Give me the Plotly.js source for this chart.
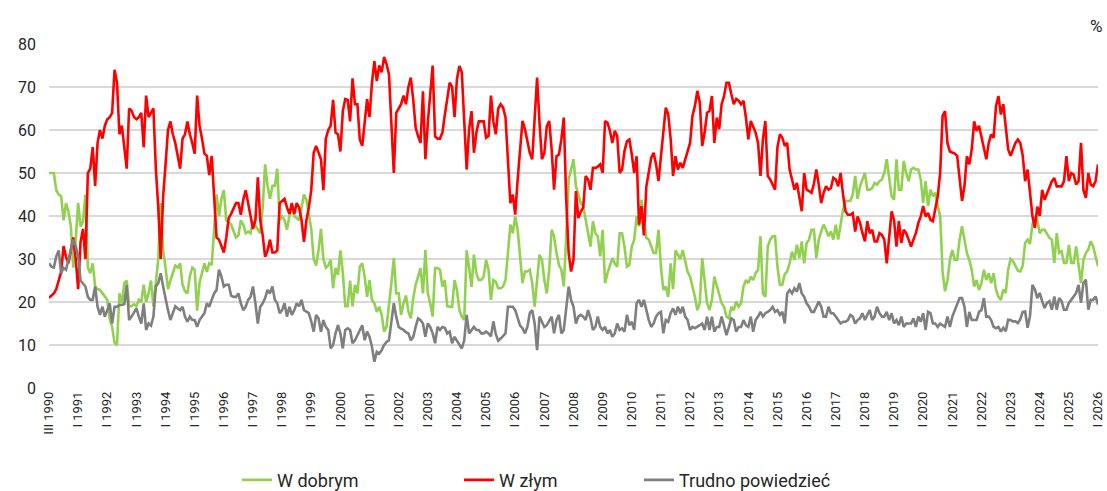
<!DOCTYPE html>
<html>
<head>
<meta charset="utf-8">
<script src="https://cdn.plot.ly/plotly-3.0.1.min.js"></script>
<style>
  html, body { margin: 0; padding: 0; background: #ffffff; }
  #chart { width: 1107px; height: 491px; }
</style>
</head>
<body>
<div id="chart"></div>
<script>
// Survey categories: 12 surveys from III 1990 to the end of 1990, then monthly from I 1991 to I 2026
const firstYear = 1990;
const lastYear = 2026;

// "W dobrym" (good direction), %
const wDobrym = [
  50, 50, 50, 46, 45, 44.6, 39, 43, 41, 37.6, 28, 34.5,          // 1990
  43, 37.6, 38.7, 45, 28, 26.7, 29, 23.6, 23, 22.8, 22, 21,       // 1991
  20.5, 16, 14.2, 10.5, 10, 22, 19.7, 24.4, 25, 19, 19, 19.5,     // 1992
  19, 20.5, 20, 24, 20, 22, 25, 19, 25, 30, 43, 32,               // 1993
  28, 23, 25, 27, 28.5, 28, 29, 24, 22.5, 22, 26, 28,             // 1994
  27.5, 18, 24.5, 26.7, 29, 27, 29, 28.6, 37, 45, 40, 44,         // 1995
  46, 39, 38.5, 38, 36.5, 35, 35.5, 39, 38, 36, 36.4, 36,         // 1996
  38.8, 37.6, 36.8, 36, 42, 52, 47, 44, 47, 47, 51, 39,           // 1997
  39.9, 39, 36.8, 40, 42.5, 40, 39.5, 39, 42, 45, 43.8, 40,       // 1998
  37, 30, 28.5, 32, 37, 30, 28, 28.5, 29.8, 23.2, 27.9, 26.3,     // 1999
  32, 26.7, 19, 19, 25, 19, 24, 22, 28.2, 29, 25.9, 21.2,         // 2000
  25.1, 20.5, 19.7, 17.7, 18.9, 17, 13.1, 14.2, 18.9, 24.4, 30.2, 22, // 2001
  22, 17, 19.7, 21.5, 17.8, 16.2, 20.9, 24, 25.9, 27.9, 22, 32.1, // 2002
  22, 19.7, 16.6, 27.9, 27.9, 27.5, 23.6, 25.1, 19, 18.9, 18.9, 25.1, // 2003
  22.8, 18.1, 16.6, 15.8, 32, 28, 23.5, 31, 26.7, 25.1, 25.1, 25.9,   // 2004
  29.8, 27.5, 20.5, 25.1, 24.7, 23.2, 23.2, 23.6, 25.1, 31.4, 38, 36, // 2005
  39.9, 36.8, 29.8, 24.4, 27.1, 27.1, 27.5, 24.4, 18.9, 25.1, 31, 29.8, // 2006
  25.1, 22, 27.5, 36.8, 35.3, 31.4, 28.6, 27.5, 23.6, 35.3, 48.5, 50.8, // 2007
  53.2, 46.9, 44.6, 43, 42.3, 39.1, 36, 32.9, 38.8, 36, 35.3, 30.6,   // 2008
  36.8, 24.4, 26.7, 28.2, 30.2, 29, 28.2, 36, 36, 32.9, 28.2, 28.6,   // 2009
  32.9, 34.5, 39.9, 37.6, 43.8, 38.8, 34.9, 34.5, 32.9, 31.4, 31.4, 36.8, // 2010
  28.2, 22.8, 23.6, 21.2, 29, 23, 32, 31, 30, 32, 29.8, 27,           // 2011
  25.9, 23.6, 21.2, 18.1, 19.7, 30.2, 24.4, 19.7, 18.1, 20.5, 25.9, 23.6, // 2012
  22, 19.7, 18.9, 16.6, 16.2, 18.9, 18.1, 20.1, 18.9, 19.7, 23.6, 25.1,   // 2013
  24.4, 25.9, 25.1, 26.7, 27.5, 35.3, 22, 21.2, 32.9, 34.5, 35.3, 35.3,   // 2014
  28.2, 24, 24, 26.5, 27.1, 29, 31.7, 29.8, 33.3, 30.2, 34.1, 29,         // 2015
  33.7, 34.5, 36.8, 36.8, 30.2, 34.5, 36.4, 38, 36.8, 35.3, 36.4, 34.5,   // 2016
  38, 34.5, 38, 41.5, 43.5, 43.5, 43.5, 45, 49.3, 44, 46.9, 48.5,         // 2017
  50, 46.1, 46.1, 46.5, 47.7, 47.3, 48.1, 48.5, 50, 53.2, 48.5, 44.6,     // 2018
  43.8, 53.2, 46.1, 46.1, 52.8, 50, 48.1, 50.8, 51.2, 50.8, 50.8, 48.5,   // 2019
  43, 48.1, 42.3, 46.1, 44.6, 45.4, 42.3, 40, 27, 22.5, 25, 29.8,         // 2020
  32.1, 29.8, 29.8, 34.5, 37.6, 34.5, 31.4, 29.8, 27.5, 23.6, 25.1, 22.8, // 2021
  24.4, 27.5, 25.1, 26.7, 24.4, 26.7, 22.8, 21.2, 20.5, 22.9, 22.1, 27.5, // 2022
  30, 29.5, 28.3, 27.3, 27.1, 28.5, 33.7, 34.5, 33.5, 38, 39.9, 39,       // 2023
  36, 36.8, 36.8, 36, 34.9, 34.5, 29.1, 36, 31.4, 31.8, 29.1, 29.1,       // 2024
  33.3, 29.1, 29.1, 32.9, 28.3, 24.4, 29.8, 31.4, 32.2, 34.1, 32.9, 30.6, // 2025
  28.3                                                                    // 2026
];

// "W złym" (bad direction), %
const wZlym = [
  21, 21.5, 22, 23, 25, 27, 33, 30.5, 29, 32, 35, 30,              // 1990
  23, 34, 37, 30, 50, 51, 56, 47, 57, 60, 58, 61,                  // 1991
  62.5, 63, 64, 74, 71, 59, 61, 56, 51, 65, 64.5, 63,              // 1992
  62.5, 63, 64, 56, 68, 63, 64, 65, 51, 42, 30, 44.5,              // 1993
  52, 60, 62, 59, 57, 54, 51, 58, 59, 62, 59, 57,                  // 1994
  54.5, 68, 61, 58, 54.5, 54, 49.5, 54, 44, 35, 34.5, 33,          // 1995
  31.5, 35, 39.5, 40.5, 42, 43, 43, 40.3, 43.8, 46, 43, 40,        // 1996
  37, 39, 49, 39, 35.5, 30.5, 32, 34.5, 31.5, 31.5, 32, 43,        // 1997
  43.5, 44, 42, 40.5, 43, 40.5, 43, 42, 39, 34, 39, 42,            // 1998
  46, 54.7, 56.3, 54.5, 53.2, 46, 58, 60, 61, 67, 59.4, 59,        // 1999
  55, 64.4, 67.2, 67, 62, 72, 66, 66, 57.8, 56.3, 62.5, 67.2,      // 2000
  63, 71, 76, 71.4, 75, 73.4, 77, 75.3, 73, 62, 50, 64,            // 2001
  65, 66, 68, 66, 70, 72.2, 67, 60.5, 58.6, 57, 69, 53.2,          // 2002
  61.7, 68.5, 75, 58.5, 58, 58, 59.4, 63.5, 67.5, 71, 70, 63,      // 2003
  71.8, 74.9, 73.4, 61, 50.8, 60.2, 64.4, 54.7, 59.4, 62, 62, 62,  // 2004
  58.2, 58.6, 68, 62, 59, 65, 66, 65.2, 62.9, 52.4, 43, 45,        // 2005
  40.3, 48.5, 55.5, 62.1, 60.2, 57.8, 54.7, 53.2, 62.5, 72.2, 61.7, 53.2, // 2006
  54.7, 60.9, 62.1, 55.5, 46.1, 53.9, 54.3, 57.8, 62.9, 43.8, 31.4, 27.1, // 2007
  29.8, 45.8, 39.5, 41, 42, 49.3, 48.5, 46.1, 51.2, 51.2, 51.5, 52,       // 2008
  50, 62.1, 61.7, 59.8, 57, 59.8, 58.6, 50, 50.8, 55.1, 57.4, 57.8,       // 2009
  54.3, 50, 53.9, 38, 42.3, 35.5, 46.9, 50.4, 53.5, 54.7, 52, 48.1,       // 2010
  53.5, 58.6, 65.2, 63.7, 58, 49.3, 53.9, 50.8, 52.4, 51.2, 53.2, 54.7,   // 2011
  57, 63.3, 65.6, 69.1, 66.4, 56.3, 59.4, 64, 64.4, 67.9, 57, 62.9,       // 2012
  60.2, 66, 67.9, 71, 71, 68.3, 66, 67.2, 66.8, 66, 66.8, 62.9,           // 2013
  57.8, 62.1, 60.9, 59.4, 57, 49.3, 57.8, 62.1, 49.3, 48.5, 47.3, 46.1,   // 2014
  56, 59, 58.2, 56.3, 57, 50.8, 48.5, 46.1, 47.7, 44.6, 41.1, 50,         // 2015
  46.1, 45.8, 45.4, 47.5, 50.8, 47.3, 43, 45.4, 46.9, 46.1, 46.5, 48.9,   // 2016
  48.5, 46.9, 50, 45, 41.1, 40.3, 40.3, 40.7, 36.4, 39.9, 38.4, 36,       // 2017
  34.1, 38.8, 36, 36.8, 34.1, 34.1, 36, 35.6, 34.5, 29, 36, 41.1,         // 2018
  39.1, 32.9, 38.8, 33.7, 36.8, 36, 34.5, 32.9, 34.5, 36, 38.4, 39.9,     // 2019
  42.3, 39.9, 40.7, 39.1, 38.8, 41.5, 44.6, 50, 63.3, 64.4, 57, 55,       // 2020
  54.7, 54.5, 54, 48.5, 43.5, 46.9, 53.9, 52, 55.5, 62, 59.8, 61,         // 2021
  58.6, 55.5, 53.2, 57, 59, 58.2, 65.6, 67.9, 63.6, 66, 60.2, 55.5,       // 2022
  54, 55.5, 57, 57.8, 57, 54, 48.1, 50.8, 45, 40, 37.2, 42.2,             // 2023
  40, 46.1, 43.8, 45.3, 46.9, 48.1, 48.8, 46.9, 46.9, 46.9, 48.1, 53.9,   // 2024
  48.1, 50, 49.6, 47.3, 48.1, 57, 46, 44.2, 50, 47.3, 46.9, 48.1,         // 2025
  52                                                                      // 2026
];

// "Trudno powiedzieć" (hard to say), %
const trudno = [
  29, 28.2, 28, 30.6, 32, 26.7, 27.9, 27.5, 29.8, 32, 34.5, 33,    // 1990
  30.6, 25, 24.4, 23.6, 21.2, 20.5, 20.5, 23.6, 18.9, 17, 18.9, 16.6, // 1991
  18.1, 19.7, 15, 18.9, 18.9, 19.3, 19.3, 19.5, 24, 15.8, 16.6, 17.7, // 1992
  18.5, 16.6, 15, 19.7, 13.5, 15, 14.5, 16.6, 23.6, 24.4, 26.7, 23.6, // 1993
  20.5, 18.1, 15.8, 17.5, 19, 18.5, 18.1, 18.9, 16.6, 15.4, 16.6, 15.8, // 1994
  15.8, 14.2, 15.8, 16.6, 17.4, 19.7, 18.9, 20.5, 22, 22.8, 27.5, 25.9, // 1995
  23.6, 24, 24, 21.5, 21.2, 21.2, 22, 19.7, 18.1, 18.9, 20.5, 21.2,     // 1996
  23.6, 19.7, 15, 18.9, 19.7, 20.9, 22.8, 22, 23.6, 20.5, 19.7, 17.4,   // 1997
  18.1, 19.7, 16.6, 18.9, 17, 18.1, 19.7, 19, 20.5, 18.1, 17.7, 17.4,   // 1998
  15.5, 13.1, 17, 16.2, 13.1, 15.8, 14.2, 13.5, 9.2, 10, 12.7, 14.6,    // 1999
  12.7, 9.2, 13.5, 13.9, 13.5, 10.4, 11.1, 12.3, 13.5, 14.6, 11.1, 13.1, // 2000
  11.9, 9.6, 6.1, 8.4, 8, 8.8, 10, 10.7, 11.1, 15.8, 19.7, 16.6,        // 2001
  14.2, 13.8, 13.5, 13, 12.7, 11.1, 11.9, 14.2, 16.2, 15.8, 15, 11.9,   // 2002
  15, 14.2, 12.7, 10.4, 14.2, 13.5, 14.2, 14, 12.7, 13.1, 10.4, 11.9,   // 2003
  11.1, 10, 9.2, 11.1, 17, 12.7, 13.5, 14.2, 13.5, 13.5, 12.7, 12.7,    // 2004
  13.1, 12.7, 12, 15.5, 12.5, 11, 11.5, 12, 12.7, 18.9, 18.9, 18.9,     // 2005
  18.1, 16.5, 14.5, 13.9, 12.7, 14.2, 17.4, 18.1, 15, 8.8, 16.6, 15.4,  // 2006
  14.2, 14.6, 15.8, 16.6, 12.7, 15.8, 17, 12.7, 13.5, 18.9, 23.6, 20.5, // 2007
  18.9, 15, 16.6, 17, 16.6, 15.8, 18.1, 16.2, 13.5, 14.2, 16.6, 14.2,   // 2008
  13.5, 14.2, 12.7, 13.5, 11.9, 12.7, 15, 13.5, 13.9, 13.1, 17, 14.6,   // 2009
  15.4, 13.5, 19.7, 20.5, 18.9, 20.5, 18.1, 15.8, 14.2, 15, 16.6, 17.4, // 2010
  17.7, 12.7, 15.8, 15.4, 17.4, 18.5, 17, 18.9, 17.4, 18.9, 16.6, 15.8, // 2011
  13.5, 14.2, 13.9, 14.2, 14.6, 15, 13.5, 16.6, 13.5, 16.6, 13.1, 14.2, // 2012
  14.2, 16.6, 14.2, 12.3, 14.2, 16.2, 15.8, 13.1, 14.2, 14.2, 15.8, 14.6, // 2013
  14.2, 16.6, 13.1, 15.8, 16.6, 17.7, 16.6, 17.4, 17.7, 18.1, 18.9, 17.7, // 2014
  18.1, 17, 17.7, 15, 22, 22.8, 22, 23.2, 22.4, 24.4, 22, 21.2,           // 2015
  19.7, 18.9, 17.7, 17.7, 18.9, 20.1, 18.9, 16.6, 16.6, 18.9, 17.4, 17.4, // 2016
  16.6, 15.8, 15, 15.4, 15.4, 15.8, 17, 16.6, 15, 15.8, 16.2, 17.4,       // 2017
  15.8, 17, 18.1, 15.8, 16.6, 18.9, 17.4, 16.6, 16.6, 17.7, 15.8, 17.4,   // 2018
  15, 15.8, 14.6, 16.6, 14.2, 15, 15, 15, 16.2, 14.2, 16.6, 15.4,         // 2019
  17.4, 13.5, 17.7, 17.4, 15, 15, 14.2, 15, 14.6, 14.2, 16.6, 14.2,       // 2020
  16.6, 18.1, 19.7, 20.9, 20.9, 18.9, 14.2, 17.7, 15.8, 15.8, 15.8, 17.7, // 2021
  18.1, 20.9, 16.6, 16.6, 15.8, 14.2, 13.9, 14.2, 13.1, 14, 13.2, 15.9,   // 2022
  15.8, 15.5, 15.5, 15.1, 16, 17.7, 17.8, 14, 16.7, 24, 22.9, 20.9,       // 2023
  22.1, 20.2, 18.6, 19.8, 20.2, 18.2, 21.3, 18.2, 20.9, 20.2, 18.2, 18.2, // 2024
  19.8, 20.5, 21.3, 22.1, 24, 19.8, 24.4, 25.2, 18.2, 20.5, 20.5, 21.3,   // 2025
  19.4                                                                    // 2026
];

const seriesNames = ['W dobrym', 'W złym', 'Trudno powiedzieć'];
const seriesColors = ['#92D050', '#FF0000', '#7F7F7F'];

// category index for each survey
const xIdx = wDobrym.map((_, i) => i);

// tick labels: one per year, every 12 surveys
const tickVals = [];
const tickText = [];
for (let y = firstYear; y <= lastYear; y++) {
  tickVals.push((y - firstYear) * 12);
  tickText.push(y === firstYear ? 'III ' + y : 'I ' + y);
}

const fontFam = 'Roboto, "Liberation Sans", Arial, sans-serif';
const allSeries = [wDobrym, wZlym, trudno];
const legendIds = ['legend', 'legend2', 'legend3'];

const traces = allSeries.map((vals, k) => ({
  x: xIdx,
  y: vals,
  type: 'scatter',
  mode: 'lines',
  name: seriesNames[k],
  line: { color: seriesColors[k], width: 2.6 },
  legend: legendIds[k],
  hoverinfo: 'skip'
}));

const legendBase = {
  orientation: 'h',
  yref: 'container', y: 0.022, yanchor: 'middle',
  xref: 'container', xanchor: 'left',
  font: { family: fontFam, size: 18, color: '#262626' },
  bgcolor: 'rgba(0,0,0,0)',
  itemwidth: 30
};

const layout = {
  width: 1107,
  height: 491,
  margin: { l: 49, r: 9, t: 44, b: 103 },
  paper_bgcolor: '#ffffff',
  plot_bgcolor: '#ffffff',
  showlegend: true,
  font: { family: fontFam, color: '#262626' },
  xaxis: {
    range: [0, xIdx.length - 1],
    tickmode: 'array',
    tickvals: tickVals,
    ticktext: tickText,
    tickangle: -90,
    tickfont: { family: fontFam, size: 13, color: '#262626' },
    showgrid: false,
    zeroline: false,
    showline: false,
    ticks: '',
    fixedrange: true
  },
  yaxis: {
    range: [0, 80],
    dtick: 10,
    tick0: 0,
    showgrid: true,
    gridcolor: '#D9D9D9',
    gridwidth: 1.5,
    zeroline: false,
    showline: false,
    ticks: '',
    ticklabelstandoff: 12,
    tickfont: { family: fontFam, size: 16, color: '#262626' },
    fixedrange: true
  },
  legend: Object.assign({}, legendBase, { x: 237 / 1107 }),
  legend2: Object.assign({}, legendBase, { x: 459 / 1107 }),
  legend3: Object.assign({}, legendBase, { x: 639 / 1107 }),
  annotations: [{
    text: '%',
    xref: 'paper', yref: 'paper',
    x: 1, y: 1, xanchor: 'right', yanchor: 'bottom', yshift: 6, xshift: 6,
    showarrow: false,
    font: { family: fontFam, size: 17, color: '#262626' }
  }]
};

Plotly.newPlot('chart', traces, layout, { staticPlot: true, displayModeBar: false });
</script>
</body>
</html>
